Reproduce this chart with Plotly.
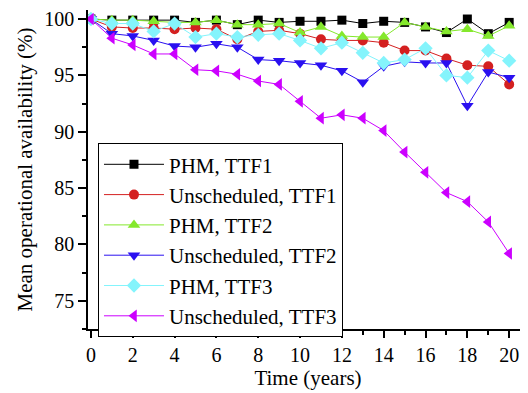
import plotly.graph_objects as go

years = list(range(21))

phm_ttf1 = [100, 99.9, 99.9, 99.9, 99.9, 99.7, 99.9, 99.5, 99.9, 99.7, 99.8,
            99.8, 99.9, 99.6, 99.8, 99.7, 99.3, 98.8, 100.0, 98.7, 99.7]
uns_ttf1 = [100, 99.3, 99.2, 99.2, 99.1, 99.2, 99.1, 98.2, 98.9, 99.0, 98.7,
            98.2, 98.1, 98.1, 97.9, 97.2, 97.2, 96.5, 95.9, 95.8, 94.2]
phm_ttf2 = [100, 99.9, 99.9, 99.8, 99.7, 99.7, 99.9, 99.5, 99.5, 99.6, 98.8,
            99.3, 98.5, 98.4, 98.4, 99.7, 99.3, 98.9, 99.1, 98.5, 99.4]
uns_ttf2 = [100, 98.7, 98.5, 98.1, 97.6, 97.5, 97.8, 97.5, 96.4, 96.3, 96.1,
            95.9, 95.4, 94.4, 95.8, 96.2, 96.1, 96.1, 92.3, 95.3, 94.8]
phm_ttf3 = [100, 99.6, 99.6, 98.9, 99.6, 98.4, 98.7, 98.4, 98.6, 98.7, 98.1,
            97.4, 97.9, 97.0, 96.1, 96.4, 97.4, 95.0, 94.8, 97.2, 96.3]
uns_ttf3 = [100, 98.3, 97.7, 96.9, 96.9, 95.5, 95.4, 95.1, 94.5, 94.2, 92.7,
            91.2, 91.5, 91.2, 90.1, 88.2, 86.4, 84.6, 83.8, 82.0, 79.2]

series_names = ["PHM, TTF1", "Unscheduled, TTF1", "PHM, TTF2",
                "Unscheduled, TTF2", "PHM, TTF3", "Unscheduled, TTF3"]
series_values = [phm_ttf1, uns_ttf1, phm_ttf2, uns_ttf2, phm_ttf3, uns_ttf3]

x_tick_vals = list(range(0, 21, 2))
y_tick_vals = [75, 80, 85, 90, 95, 100]

styles = [
    dict(color="#000000", symbol="square", size=9),
    dict(color="#d42020", symbol="circle", size=10),
    dict(color="#84e82c", symbol="triangle-up", size=11),
    dict(color="#2a10f0", symbol="triangle-down", size=11),
    dict(color="#84f4fc", symbol="diamond", size=11),
    dict(color="#cc00ff", symbol="triangle-left", size=11),
]

fig = go.Figure()
for name, vals, st in zip(series_names, series_values, styles):
    fig.add_trace(go.Scatter(
        x=years, y=vals, name=name, mode="lines+markers",
        line=dict(color=st["color"], width=1),
        marker=dict(color=st["color"], symbol=st["symbol"], size=st["size"],
                    line=dict(width=0)),
    ))

font_family = "Liberation Serif"

fig.update_layout(
    width=520, height=385,
    margin=dict(l=80, r=0, t=0, b=64),
    paper_bgcolor="white", plot_bgcolor="white",
    font=dict(family=font_family, color="black", size=20),
    showlegend=True,
    legend=dict(
        x=0.0227, y=0.5826, xanchor="left", yanchor="top",
        bordercolor="black", borderwidth=1, bgcolor="white",
        font=dict(family=font_family, size=21, color="black"),
        itemwidth=60, tracegroupgap=0,
    ),
    xaxis=dict(
        range=[-0.14, 20.9], tickvals=x_tick_vals,
        ticks="outside", ticklen=7, tickwidth=1.5, tickcolor="black",
        showline=True, linecolor="black", linewidth=1.5,
        showgrid=False, zeroline=False,
        tickfont=dict(family=font_family, size=20),
        minor=dict(dtick=1, tick0=0, ticks="outside", ticklen=4,
                   tickcolor="black", tickwidth=1.5, showgrid=False),
        title=dict(text="Time (years)", font=dict(family=font_family, size=21),
                   standoff=5),
    ),
    yaxis=dict(
        range=[72.5, 100.8], tickvals=y_tick_vals,
        ticks="outside", ticklen=8, tickwidth=1.5, tickcolor="black",
        showline=True, linecolor="black", linewidth=1.5,
        showgrid=False, zeroline=False, ticklabeloverflow="allow",
        tickfont=dict(family=font_family, size=20),
        minor=dict(dtick=2.5, tick0=0, ticks="outside", ticklen=4,
                   tickcolor="black", tickwidth=1.5, showgrid=False),
        title=dict(text="Mean operational availability (%)",
                   font=dict(family=font_family, size=21), standoff=6),
    ),
)

fig.write_html("out.html")
